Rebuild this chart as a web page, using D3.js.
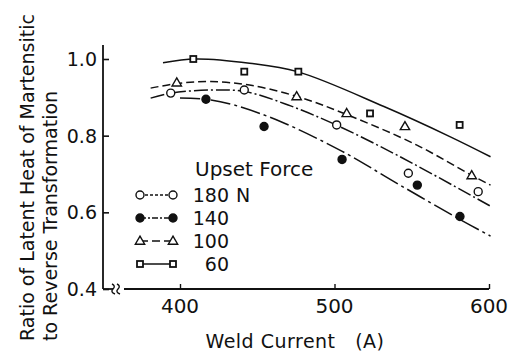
<!DOCTYPE html>
<html>
<head>
<meta charset="utf-8">
<script src="https://cdn.jsdelivr.net/npm/d3@7"></script>
<style>
  body { margin: 0; background: #fff; }
  text { font-family: "DejaVu Sans", sans-serif; fill: #111; }
</style>
</head>
<body>
<div id="chart"></div>
<script>
// series names and marker kinds
var seriesNames = ["180 N", "140", "100", "60"];
var seriesMarks = ["circle", "dot", "triangle", "square"];
var seriesDash = ["14,3,2,3", "20,4,3,4", "8,4", null];

// measured points [weld current, ratio]
var pts180 = [[394, 0.911], [441.6, 0.919], [501.4, 0.828], [547.8, 0.702], [593, 0.654]];
var pts140 = [[416.8, 0.895], [454.4, 0.824], [504.9, 0.738], [553.6, 0.671], [581.2, 0.589]];
var pts100 = [[397.9, 0.938], [475.5, 0.902], [507.9, 0.858], [545.6, 0.824], [588.8, 0.696]];
var pts60 = [[408.6, 1.0], [441.6, 0.967], [476.6, 0.967], [523, 0.858], [581, 0.828]];

// fitted curves as drawn in the figure
var fit180 = [[381, 0.898], [394, 0.911], [419, 0.919], [442, 0.915], [470, 0.88], [501, 0.828], [542, 0.746], [601, 0.616]];
var fit140 = [[400, 0.898], [417, 0.895], [435, 0.88], [465, 0.837], [505, 0.759], [542, 0.672], [581, 0.582], [601, 0.538]];
var fit100 = [[381, 0.924], [400, 0.937], [420, 0.941], [445, 0.932], [476, 0.902], [508, 0.855], [553, 0.776], [589, 0.696], [601, 0.671]];
var fit60 = [[389, 0.99], [410, 1.0], [445, 0.989], [476, 0.967], [532, 0.876], [575, 0.797], [601, 0.745]];

var xTicks = [400, 500, 600];
var yTicks = [0.4, 0.6, 0.8, 1.0];

var allPts = [pts180, pts140, pts100, pts60];
var allFits = [fit180, fit140, fit100, fit60];

var width = 508, height = 352;

var svg = d3.select("#chart").append("svg")
	.attr("width", width)
	.attr("height", height);

var x = d3.scaleLinear().domain([400, 600]).range([180, 489]);
var y = d3.scaleLinear().domain([0.4, 1.0]).range([289, 59]);

var axisX0 = 103, axisY0 = 289;

// y axis
var yAxis = d3.axisRight(y).tickValues(yTicks).tickSize(6).tickFormat("");
var gy = svg.append("g").attr("transform", "translate(" + axisX0 + ",0)").call(yAxis);
gy.select(".domain").remove();
gy.selectAll("line").attr("stroke", "#111").attr("stroke-width", 1.6);
svg.append("line")
	.attr("x1", axisX0).attr("x2", axisX0)
	.attr("y1", 45).attr("y2", axisY0)
	.attr("stroke", "#111").attr("stroke-width", 1.8);

svg.selectAll(".ylab").data(yTicks).enter().append("text")
	.attr("class", "ylab")
	.attr("x", 97)
	.attr("y", function(d) { return y(d) + 7; })
	.attr("text-anchor", "end")
	.style("font-size", "19px")
	.text(function(d) { return d.toFixed(1); });

// x axis with break
var xAxis = d3.axisTop(x).tickValues(xTicks).tickSize(5).tickFormat("");
var gx = svg.append("g").attr("transform", "translate(0," + axisY0 + ")").call(xAxis);
gx.select(".domain").remove();
gx.selectAll("line").attr("stroke", "#111").attr("stroke-width", 1.4);
svg.append("line")
	.attr("x1", axisX0).attr("x2", 113)
	.attr("y1", axisY0).attr("y2", axisY0)
	.attr("stroke", "#111").attr("stroke-width", 1.8);
svg.append("line")
	.attr("x1", 124).attr("x2", x(600))
	.attr("y1", axisY0).attr("y2", axisY0)
	.attr("stroke", "#111").attr("stroke-width", 1.8);
[113, 118].forEach(function(bx) {
	svg.append("path")
		.attr("d", "M" + (bx - 1) + "," + (axisY0 - 5) + " q4,2 1,5 q-3,3 2,5")
		.attr("fill", "none").attr("stroke", "#111").attr("stroke-width", 1.4);
});

svg.selectAll(".xlab").data(xTicks).enter().append("text")
	.attr("class", "xlab")
	.attr("x", function(d) { return x(d); })
	.attr("y", 313)
	.attr("text-anchor", "middle")
	.style("font-size", "20px")
	.text(function(d) { return d; });

svg.append("text")
	.attr("x", 295).attr("y", 348)
	.attr("text-anchor", "middle")
	.style("font-size", "19px")
	.style("letter-spacing", "0.5px")
	.attr("xml:space", "preserve")
	.text("Weld Current   (A)");

// y label, two lines
var yl = svg.append("g").attr("transform", "translate(0,341) rotate(-90)");
yl.append("text").attr("x", 0).attr("y", 34).style("font-size", "19px")
	.text("Ratio of Latent Heat of Martensitic");
yl.append("text").attr("x", 0).attr("y", 57).style("font-size", "19px")
	.text("to Reverse Transformation");

// curves
var line = d3.line()
	.x(function(d) { return x(d[0]); })
	.y(function(d) { return y(d[1]); })
	.curve(d3.curveCatmullRom);

svg.selectAll(".fit").data(allFits).enter().append("path")
	.attr("class", "fit")
	.attr("d", line)
	.attr("fill", "none")
	.attr("stroke", "#111")
	.attr("stroke-width", 1.5)
	.attr("stroke-dasharray", function(d, i) { return seriesDash[i]; });

// markers
function drawMark(g, kind, cx, cy) {
	if (kind == "circle" || kind == "dot") {
		g.append("circle").attr("cx", cx).attr("cy", cy).attr("r", 4)
			.attr("fill", kind == "dot" ? "#111" : "#fff")
			.attr("stroke", "#111").attr("stroke-width", 1.4);
	} else if (kind == "triangle") {
		g.append("path").attr("d", d3.symbol(d3.symbolTriangle, 38)())
			.attr("transform", "translate(" + cx + "," + (cy + 0.5) + ")")
			.attr("fill", "#fff").attr("stroke", "#111").attr("stroke-width", 1.4);
	} else {
		g.append("rect").attr("x", cx - 3).attr("y", cy - 3)
			.attr("width", 6).attr("height", 6)
			.attr("fill", "#fff").attr("stroke", "#111").attr("stroke-width", 1.8);
	}
}

var marks = svg.append("g");
allPts.forEach(function(pts, i) {
	pts.forEach(function(p) {
		drawMark(marks, seriesMarks[i], x(p[0]), y(p[1]));
	});
});

// legend
var leg = svg.append("g");
leg.append("text").attr("x", 195).attr("y", 176).style("font-size", "20px").text("Upset Force");
seriesNames.forEach(function(name, i) {
	var ly = 195 + i * 23;
	leg.append("line")
		.attr("x1", 140).attr("x2", 173)
		.attr("y1", ly).attr("y2", ly)
		.attr("stroke", "#111").attr("stroke-width", 1.4)
		.attr("stroke-dasharray", i == 0 ? "3,2" : i == 1 ? "6,2,2,2" : seriesDash[i]);
	drawMark(leg, seriesMarks[i], 140, ly);
	drawMark(leg, seriesMarks[i], 173, ly);
	var num = name.split(" ")[0];
	leg.append("text").attr("x", 229).attr("y", ly + 7)
		.attr("text-anchor", "end").style("font-size", "19px").text(num);
	if (name.indexOf("N") >= 0) {
		leg.append("text").attr("x", 236).attr("y", ly + 7)
			.style("font-size", "19px").text("N");
	}
});
</script>
</body>
</html>
